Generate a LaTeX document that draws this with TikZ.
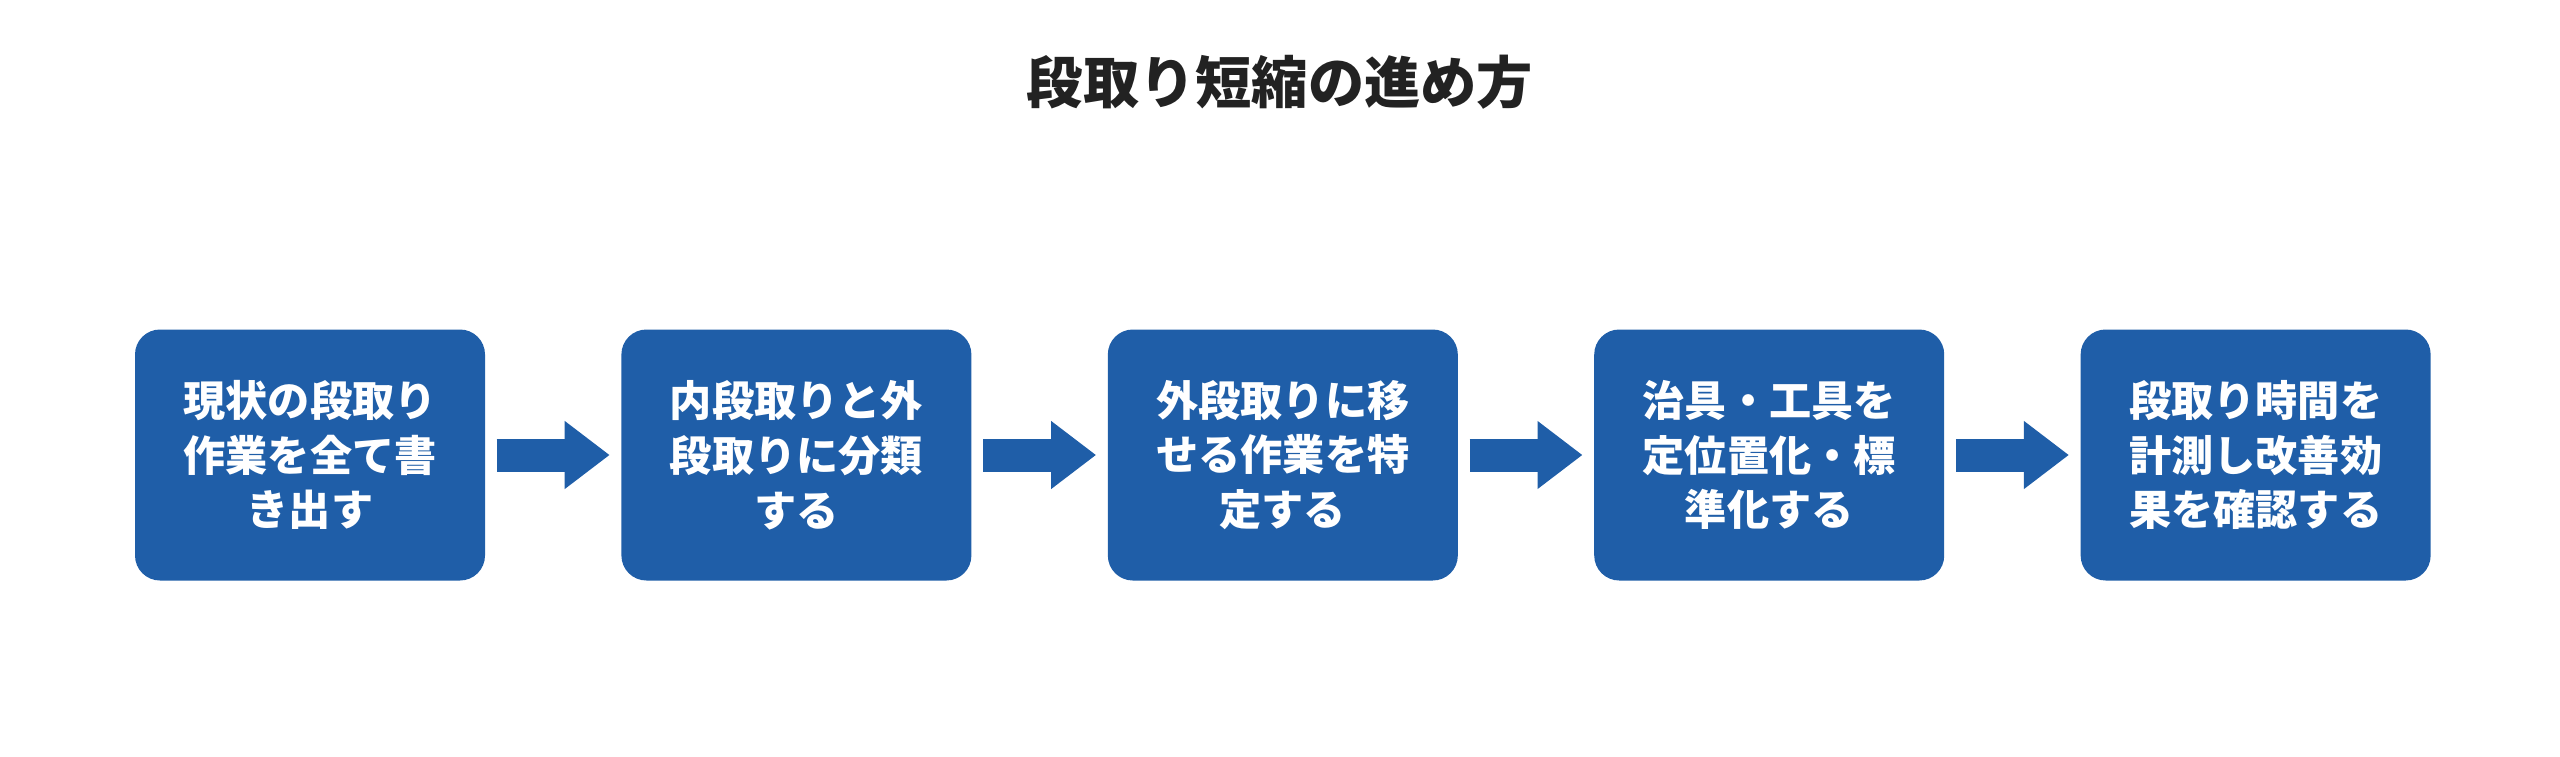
\documentclass[tikz,border=0pt]{standalone}
\usepackage{fontspec}
\setmainfont{Noto Sans CJK JP}
\usetikzlibrary{positioning,arrows.meta}
\definecolor{stepblue}{RGB}{31, 94, 168}
\definecolor{titlegray}{RGB}{34, 34, 34}

\begin{document}
\begin{tikzpicture}[
    stepbox/.style={rectangle,rounded corners=0.25cm,fill=stepblue,text=white,
        minimum width=3.5cm,minimum height=2.51cm,align=center,
        font=\fontsize{12}{15.6}\selectfont\bfseries},
    flow/.style={stepblue,line width=0.33cm,shorten <=0.11cm,shorten >=0.11cm,
        -{Triangle[length=0.45cm,width=0.65cm]}},
    node distance=1.35cm
]
\useasboundingbox (0,0) rectangle (25.6,-7.56);

% Title
\node[font=\fontsize{16}{19}\selectfont\bfseries,text=titlegray] (title) at (12.8,-0.82) {段取り短縮の進め方};

% Steps
\node[stepbox] (s1) at (3.1,-4.55) {現状の段取り\\作業を全て書\\き出す};
\node[stepbox,right=of s1] (s2) {内段取りと外\\段取りに分類\\する};
\node[stepbox,right=of s2] (s3) {外段取りに移\\せる作業を特\\定する};
\node[stepbox,right=of s3] (s4) {治具・工具を\\定位置化・標\\準化する};
\node[stepbox,right=of s4] (s5) {段取り時間を\\計測し改善効\\果を確認する};

% Arrows
\foreach \a/\b in {s1/s2, s2/s3, s3/s4, s4/s5} {
    \draw[flow] (\a) -- (\b);
}
\end{tikzpicture}
\end{document}
